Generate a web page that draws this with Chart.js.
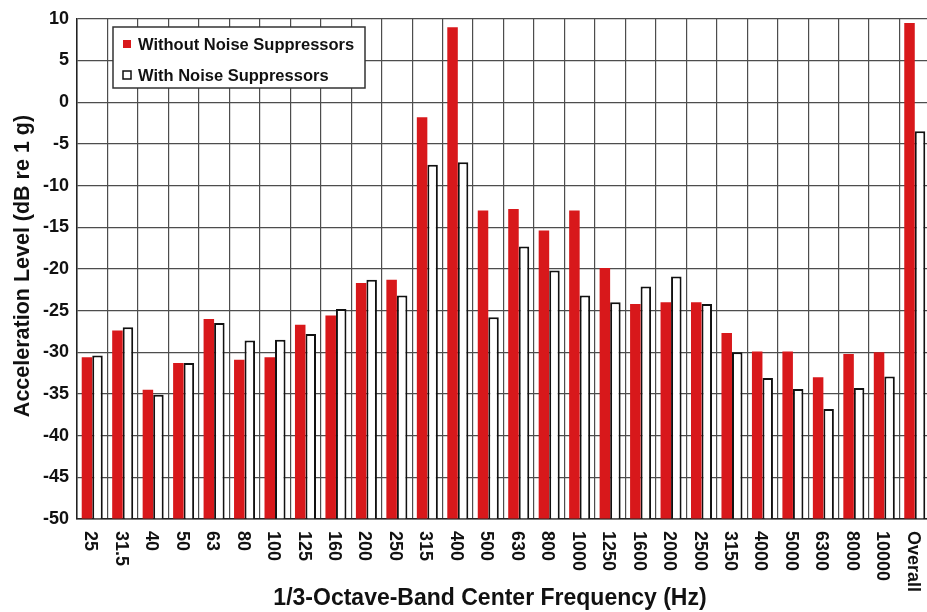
<!DOCTYPE html>
<html lang="en">
<head>
    <meta charset="UTF-8">
    <title>Acceleration Level by 1/3-Octave Band</title>
    <script src="https://cdn.jsdelivr.net/npm/chart.js"></script>
    <style>
        html, body { margin: 0; padding: 0; background: #fff; overflow: hidden; }
        #wrap { width: 932px; height: 612px; }
    </style>
</head>
<body>
    <div id="wrap"><canvas id="bandChart" width="932" height="612"></canvas></div>

    <script>
        // --- data ---
        const bands = ['25', '31.5', '40', '50', '63', '80', '100', '125', '160', '200', '250', '315', '400',
            '500', '630', '800', '1000', '1250', '1600', '2000', '2500', '3150', '4000', '5000', '6300',
            '8000', '10000', 'Overall'];
        const withoutSuppressors = [-30.6, -27.4, -34.5, -31.3, -26.0, -30.9, -30.6, -26.7, -25.6, -21.7, -21.3,
            -1.8, 9.0, -13.0, -12.8, -15.4, -13.0, -19.9, -24.2, -24.0, -24.0, -27.7, -29.9, -29.9, -33.0,
            -30.2, -30.0, 9.5];
        const withSuppressors = [-30.4, -27.0, -35.1, -31.3, -26.5, -28.6, -28.5, -27.8, -24.8, -21.3, -23.2,
            -7.5, -7.2, -25.8, -17.3, -20.2, -23.2, -24.0, -22.1, -20.9, -24.2, -30.0, -33.1, -34.4, -36.8,
            -34.3, -32.9, -3.5];
        const seriesNames = ['Without Noise Suppressors', 'With Noise Suppressors'];
        const yMin = -50, yMax = 10, yStep = 5;
        const yTitle = 'Acceleration Level (dB re 1 g)';
        const xTitle = '1/3-Octave-Band Center Frequency (Hz)';

        const FONT = "'Liberation Sans', Arial, sans-serif";
        const RED = '#d8181b';
        const INK = '#111';
        const GRID = '#4d4d4d';

        // draws the clockwise-rotated band labels, the axis titles and the legend box
        const decorations = {
            id: 'decorations',
            afterDraw(chart) {
                const ctx = chart.ctx;
                const xs = chart.scales.x;
                ctx.save();
                ctx.fillStyle = INK;

                ctx.font = 'bold 18px ' + FONT;
                ctx.textAlign = 'left';
                ctx.textBaseline = 'middle';
                bands.forEach((b, i) => {
                    ctx.save();
                    ctx.translate(xs.getPixelForValue(i) - 2, 531);
                    ctx.rotate(Math.PI / 2);
                    ctx.fillText(b, 0, 0);
                    ctx.restore();
                });

                ctx.font = 'bold 23px ' + FONT;
                ctx.textAlign = 'center';
                ctx.textBaseline = 'alphabetic';
                ctx.fillText(xTitle, 490, 605);

                ctx.save();
                ctx.font = 'bold 21.5px ' + FONT;
                ctx.translate(29, 266);
                ctx.rotate(-Math.PI / 2);
                ctx.fillText(yTitle, 0, 0);
                ctx.restore();

                // legend
                ctx.fillStyle = '#fff';
                ctx.fillRect(113, 27, 252, 61);
                ctx.strokeStyle = '#333';
                ctx.lineWidth = 1.5;
                ctx.strokeRect(113, 27, 252, 61);

                const ds = chart.data.datasets;
                const rows = [44, 75];
                ctx.font = 'bold 16.5px ' + FONT;
                ctx.textAlign = 'left';
                ctx.textBaseline = 'middle';
                ds.forEach((d, i) => {
                    const y = rows[i];
                    ctx.fillStyle = d.backgroundColor;
                    ctx.fillRect(123, y - 4, 8, 8);
                    if (d.borderWidth) {
                        ctx.strokeStyle = d.borderColor;
                        ctx.lineWidth = 1.5;
                        ctx.strokeRect(123, y - 4, 8, 8);
                    }
                    ctx.fillStyle = INK;
                    ctx.fillText(d.label, 138, y + 1);
                });
                ctx.restore();
            }
        };

        new Chart(document.getElementById('bandChart'), {
            type: 'bar',
            data: {
                labels: bands,
                datasets: [
                    { label: seriesNames[0], data: withoutSuppressors, backgroundColor: RED, borderWidth: 0, base: yMin },
                    { label: seriesNames[1], data: withSuppressors, backgroundColor: '#fff', borderColor: INK, borderWidth: 2, base: yMin }
                ]
            },
            options: {
                responsive: false,
                animation: false,
                layout: { padding: { top: 14, right: 2, left: 0, bottom: 0 } },
                datasets: { bar: { categoryPercentage: 0.69, barPercentage: 1 } },
                plugins: { legend: { display: false }, tooltip: { enabled: false } },
                scales: {
                    x: {
                        grid: { color: GRID, lineWidth: 1.2, drawTicks: false, offset: true },
                        border: { color: '#222', width: 1.5 },
                        ticks: { display: false },
                        afterFit(s) { s.height = 93; }
                    },
                    y: {
                        min: yMin, max: yMax,
                        grid: { color: GRID, lineWidth: 1.2, drawTicks: false },
                        border: { color: '#222', width: 1.5 },
                        ticks: { stepSize: yStep, padding: 8, color: INK, font: { family: FONT, size: 18, weight: 'bold' } },
                        afterFit(s) { s.width = 77; }
                    }
                }
            },
            plugins: [decorations]
        });
    </script>
</body>
</html>
